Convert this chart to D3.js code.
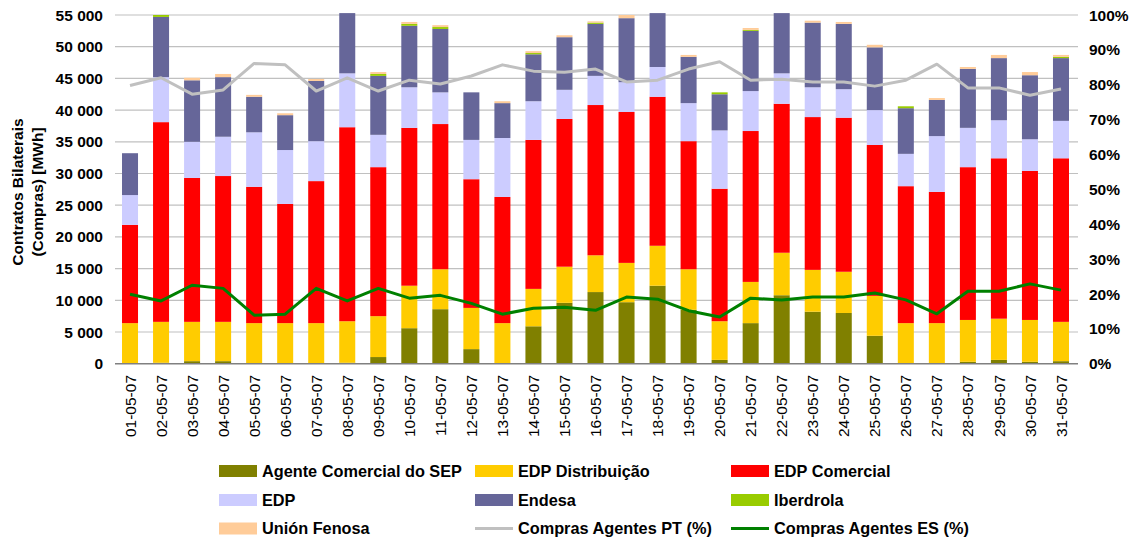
<!DOCTYPE html>
<html>
<head>
<meta charset="utf-8">
<script src="https://cdn.jsdelivr.net/npm/d3@7"></script>
<style>
  body { margin: 0; background: #fff; }
  svg { font-family: "Liberation Sans", Arial, sans-serif; }
  .tick-label { font-size: 15.5px; font-weight: bold; fill: #000; }
  .date-label { font-size: 15.5px; fill: #000; }
  .legend-label { font-size: 16.3px; font-weight: bold; fill: #000; }
</style>
</head>
<body>
<div id="chart"></div>
<script>
const dates = ["01-05-07","02-05-07","03-05-07","04-05-07","05-05-07","06-05-07","07-05-07","08-05-07",
  "09-05-07","10-05-07","11-05-07","12-05-07","13-05-07","14-05-07","15-05-07","16-05-07","17-05-07",
  "18-05-07","19-05-07","20-05-07","21-05-07","22-05-07","23-05-07","24-05-07","25-05-07","26-05-07",
  "27-05-07","28-05-07","29-05-07","30-05-07","31-05-07"];

// MWh per day, stacked bottom to top
const agenteSEP = [100,150,400,400,0,0,0,150,1050,5600,8600,2300,50,5900,9600,11300,9700,12300,8500,600,6400,10800,8200,8000,4400,100,50,300,600,300,400];
const edpDistribuicao = [6300,6450,6200,6200,6400,6400,6400,6550,6450,6700,6300,6500,6350,5900,5700,5800,6200,6300,6400,6100,6500,6700,6600,6500,6300,6300,6350,6600,6500,6600,6200];
const edpComercial = [15500,31500,22700,23000,21500,18800,22400,30600,23500,24900,22900,20300,19900,23500,23300,23700,23800,23500,20200,20900,23800,23500,24100,24300,23800,21600,20700,24100,25300,23500,25800];
const edp = [4700,7100,5700,6200,8600,8500,6300,8500,5100,6400,5000,6200,9300,6100,4600,4600,4700,4700,6000,9200,6300,4800,4700,4500,5500,5100,8800,6200,6000,5000,5900];
const endesa = [6600,9500,9700,9400,5600,5500,9500,9500,9300,9700,10000,7500,5500,7400,8300,8200,10100,8500,7300,5700,9500,9500,10200,10300,9900,7200,5700,9300,9800,10100,9900];
const iberdrola = [0,300,0,0,0,0,0,0,300,300,300,0,0,200,0,200,0,0,0,300,150,0,0,0,0,300,0,0,0,0,200];
const unionFenosa = [0,0,400,500,300,300,300,0,300,300,300,0,300,300,300,200,500,0,300,0,300,0,300,300,400,0,300,300,500,500,300];

// percent lines (right axis)
const comprasPT = [79.8,82.0,77.3,78.5,86.1,85.7,78.2,82.0,78.2,81.3,80.2,82.5,85.7,83.9,83.6,84.5,80.8,81.3,84.5,86.6,81.3,81.6,80.8,80.8,79.6,81.3,85.9,79.1,79.1,77.0,78.8];
const comprasES = [19.9,18.0,22.5,21.6,13.9,14.2,21.6,18.0,21.6,18.8,19.6,17.3,14.2,15.9,16.2,15.3,19.1,18.5,15.2,13.4,18.8,18.3,19.1,19.1,20.3,18.3,14.3,20.8,20.8,22.9,21.1];

const yTicks = [0,5000,10000,15000,20000,25000,30000,35000,40000,45000,50000,55000];
const pctTicks = [0,10,20,30,40,50,60,70,80,90,100];

const seriesInfo = [
  { key: "agente", name: "Agente Comercial do SEP", values: agenteSEP, color: "#808000" },
  { key: "edpDist", name: "EDP Distribuição", values: edpDistribuicao, color: "#FFCC00" },
  { key: "edpCom", name: "EDP Comercial", values: edpComercial, color: "#FF0000" },
  { key: "edp", name: "EDP", values: edp, color: "#CCCCFF" },
  { key: "endesa", name: "Endesa", values: endesa, color: "#666699" },
  { key: "iberdrola", name: "Iberdrola", values: iberdrola, color: "#99CC00" },
  { key: "union", name: "Unión Fenosa", values: unionFenosa, color: "#FFCC99" }
];
const lineInfo = [
  { name: "Compras Agentes PT (%)", values: comprasPT, color: "#C0C0C0" },
  { name: "Compras Agentes ES (%)", values: comprasES, color: "#008000" }
];

const width = 1138;
const height = 540;
const plotLeft = 114.5;
const plotRight = 1076.5;
const plotTop = 15;
const plotBottom = 363.7;

const svg = d3.select("#chart")
  .append("svg")
    .attr("width", width)
    .attr("height", height);

// table for the stack
const table = dates.map((d, i) => {
  const row = { date: d };
  seriesInfo.forEach(s => { row[s.key] = s.values[i]; });
  return row;
});
const stacked = d3.stack().keys(seriesInfo.map(s => s.key))(table);

const x = d3.scaleBand()
  .domain(dates)
  .range([plotLeft, plotRight])
  .paddingInner(0.484)
  .paddingOuter(0.242);

const y = d3.scaleLinear()
  .domain([0, 55000])
  .range([plotBottom, plotTop]);

const yPct = d3.scaleLinear()
  .domain([0, 100])
  .range([plotBottom, plotTop]);

// gridlines
svg.append("g")
  .selectAll("line")
  .data(yTicks.filter(t => t > 0))
  .join("line")
    .attr("x1", plotLeft + 0.5)
    .attr("x2", plotRight + 1.5)
    .attr("y1", d => y(d))
    .attr("y2", d => y(d))
    .attr("stroke", "#C0C0C0")
    .attr("stroke-width", 1.2);

// left tick labels
const fmt = d => d3.format(",")(d).replace(/,/g, " ");
svg.append("g")
  .selectAll("text")
  .data(yTicks)
  .join("text")
    .attr("class", "tick-label")
    .attr("x", 103)
    .attr("y", d => y(d))
    .attr("dy", "0.36em")
    .attr("text-anchor", "end")
    .text(d => fmt(d));

// right tick labels
svg.append("g")
  .selectAll("text")
  .data(pctTicks)
  .join("text")
    .attr("class", "tick-label")
    .attr("x", 1089)
    .attr("y", d => yPct(d))
    .attr("dy", "0.36em")
    .text(d => d + "%");

// bars
svg.append("g")
  .selectAll("g")
  .data(stacked)
  .join("g")
    .attr("fill", (d, i) => seriesInfo[i].color)
  .selectAll("rect")
  .data(d => d)
  .join("rect")
    .attr("x", d => x(d.data.date))
    .attr("y", d => y(d[1]))
    .attr("width", x.bandwidth())
    .attr("height", d => y(d[0]) - y(d[1]));

// x axis line
svg.append("line")
  .attr("x1", plotLeft + 0.5)
  .attr("x2", plotRight + 1.5)
  .attr("y1", y(0))
  .attr("y2", y(0))
  .attr("stroke", "#808080")
  .attr("stroke-width", 1.5);

// percent lines
const line = d3.line()
  .x((d, i) => x(dates[i]) + x.bandwidth() / 2)
  .y(d => yPct(d));

svg.append("g")
  .selectAll("path")
  .data(lineInfo)
  .join("path")
    .attr("d", d => line(d.values))
    .attr("fill", "none")
    .attr("stroke", d => d.color)
    .attr("stroke-width", 3)
    .attr("stroke-linejoin", "round");

// date labels
svg.append("g")
  .selectAll("text")
  .data(dates)
  .join("text")
    .attr("class", "date-label")
    .attr("transform", d => `translate(${x(d) + x.bandwidth() / 2},375) rotate(-90)`)
    .attr("dy", "0.36em")
    .attr("text-anchor", "end")
    .text(d => d);

// y axis title
const yTitle = svg.append("text")
  .attr("class", "tick-label")
  .attr("transform", "translate(23,192) rotate(-90)")
  .attr("text-anchor", "middle");
yTitle.append("tspan").attr("x", 0).attr("y", 0).text("Contratos Bilaterais");
yTitle.append("tspan").attr("x", 0).attr("y", 19.5).text("(Compras) [MWh]");

// legend
const legendItems = seriesInfo.map(s => ({ name: s.name, color: s.color, type: "rect" }))
  .concat(lineInfo.map(l => ({ name: l.name, color: l.color, type: "line" })));
const colX = [219, 475, 731];
const rowY = [471, 500, 528.5];

const legend = svg.append("g")
  .selectAll("g")
  .data(legendItems)
  .join("g")
    .attr("transform", (d, i) => `translate(${colX[i % 3]},${rowY[Math.floor(i / 3)]})`);

legend.filter(d => d.type === "rect")
  .append("rect")
    .attr("x", 0)
    .attr("y", -6)
    .attr("width", 38)
    .attr("height", 12)
    .attr("fill", d => d.color);

legend.filter(d => d.type === "line")
  .append("line")
    .attr("x1", 0)
    .attr("x2", 38)
    .attr("y1", 0)
    .attr("y2", 0)
    .attr("stroke", d => d.color)
    .attr("stroke-width", 3);

legend.append("text")
  .attr("class", "legend-label")
  .attr("x", 43)
  .attr("y", 0)
  .attr("dy", "0.36em")
  .text(d => d.name);
</script>
</body>
</html>
